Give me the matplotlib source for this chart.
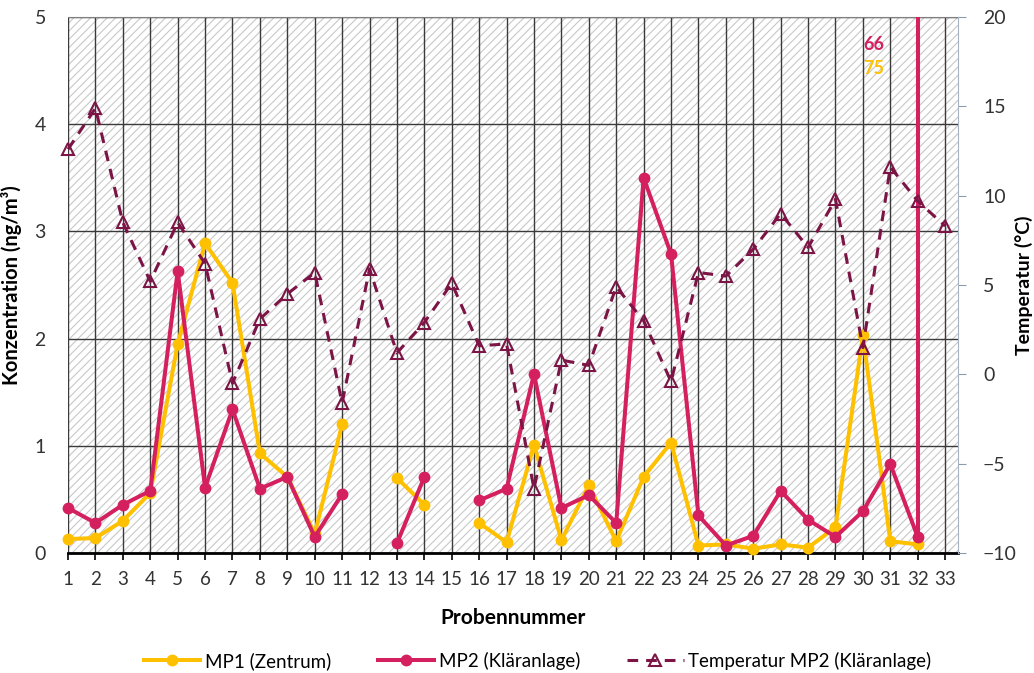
import numpy as np
import matplotlib.pyplot as plt
from matplotlib.patches import Rectangle

plt.rcParams['font.family'] = ['Lato', 'DejaVu Sans']
plt.rcParams['hatch.linewidth'] = 0.8
plt.rcParams['hatch.color'] = '#c8c8c8'

nan = np.nan
samples = list(range(1, 34))

# concentrations in ng/m3, samples 1..32 (none taken at 12 and 15)
mp1 = [0.13, 0.14, 0.30, 0.56, 1.95, 2.89, 2.52, 0.93, 0.71, 0.18,
       1.20, nan, 0.70, 0.45, nan, 0.28, 0.10, 1.01, 0.12, 0.63,
       0.11, 0.71, 1.03, 0.07, 0.08, 0.04, 0.08, 0.05, 0.24, 2.03,
       0.11, 0.08]
mp2 = [0.42, 0.28, 0.45, 0.58, 2.63, 0.61, 1.34, 0.60, 0.71, 0.15,
       0.55, nan, 0.09, 0.71, nan, 0.49, 0.60, 1.67, 0.42, 0.54,
       0.28, 3.50, 2.79, 0.35, 0.07, 0.16, 0.58, 0.31, 0.15, 0.39,
       0.83, 0.15]
# off-scale values at sample 32
peak_x = 32
mp1_peak = 75
mp2_peak = 66

temp = [12.6, 14.9, 8.5, 5.2, 8.5, 6.2, -0.5, 3.1, 4.5, 5.7,
        -1.6, 5.9, 1.2, 2.9, 5.1, 1.6, 1.7, -6.4, 0.8, 0.5,
        4.9, 3.0, -0.4, 5.7, 5.5, 7.0, 9.0, 7.1, 9.8, 1.5,
        11.6, 9.7, 8.3]

c_mp1 = '#ffc000'
c_mp2 = '#d4205e'
c_temp = '#7c1546'
c_text = '#333333'

fig = plt.figure(figsize=(10.34, 6.73), dpi=100)
ax = fig.add_axes([0.0658, 0.1783, 0.8607, 0.7964])

# hatched plot background
ax.add_patch(Rectangle((0, 0), 1, 1, transform=ax.transAxes, facecolor='white',
                       hatch='////', edgecolor='#c8c8c8', linewidth=0, zorder=0))
ax.set_axisbelow(True)
ax.grid(True, color='#3a3a3a', linewidth=1.0)

x_mp = samples[:32]
# spikes to the off-scale values, clipped at the top
ax.plot([peak_x, peak_x], [mp1[peak_x - 1], mp1_peak], color=c_mp1, lw=2.9, zorder=3)
ax.plot(x_mp, mp1, color=c_mp1, lw=2.9, marker='o', ms=7.5, clip_on=False,
        label='MP1 (Zentrum)', zorder=3)
ax.plot([peak_x, peak_x], [mp2[peak_x - 1], mp2_peak], color=c_mp2, lw=2.9, zorder=4)
ax.plot(x_mp, mp2, color=c_mp2, lw=2.9, marker='o', ms=7.5, clip_on=False,
        label='MP2 (Kläranlage)', zorder=4)

ax.text(30.4, 4.74, str(mp2_peak), color=c_mp2, fontsize=13, fontweight='bold',
        ha='center', va='center')
ax.text(30.4, 4.52, str(mp1_peak), color=c_mp1, fontsize=13, fontweight='bold',
        ha='center', va='center')

ax.set_xlim(1, 33.47)
ax.set_ylim(0, 5)
ax.set_xticks(samples)
ax.set_yticks(range(0, 6))
ax.tick_params(axis='y', length=0, labelsize=14, colors=c_text, pad=16)
ax.tick_params(axis='x', length=5, width=1.2, color='black', labelsize=13.5,
               labelcolor=c_text, pad=8)
for s in ['left', 'right']:
    ax.spines[s].set_visible(False)
ax.spines['top'].set_color('#808080')
ax.spines['bottom'].set_color('black')
ax.spines['bottom'].set_linewidth(2)

ax.set_xlabel('Probennummer', fontsize=15, fontweight='bold')
ax.xaxis.set_label_coords(0.5, -0.1026)
ax.set_ylabel('Konzentration (ng/m³)', fontsize=14.5, fontweight='bold')
ax.yaxis.set_label_coords(-0.052, 0.5)

ax2 = ax.twinx()
ax2.plot(samples, temp, color=c_temp, lw=2.2, ls=(0, (3.5, 2.6)), marker='^',
         ms=9, mfc='none', mec=c_temp, mew=1.5, clip_on=False,
         label='Temperatur MP2 (Kläranlage)')
ax2.set_ylim(-10, 20)
ax2.set_yticks(range(-10, 21, 5))
ax2.tick_params(axis='y', length=6, color='#8c9bb0', labelsize=14,
                labelcolor=c_text, pad=12)
for s in ['left', 'top', 'bottom']:
    ax2.spines[s].set_visible(False)
ax2.spines['right'].set_color('#a8b4c4')
ax2.set_ylabel('Temperatur (°C)', fontsize=14, fontweight='bold')
ax2.yaxis.set_label_coords(1.064, 0.5)

h1, l1 = ax.get_legend_handles_labels()
h2, l2 = ax2.get_legend_handles_labels()
fig.legend(h1 + h2, l1 + l2, loc='center', bbox_to_anchor=(0.52, 0.018),
           ncol=3, frameon=False, fontsize=13.5, handlelength=3.0,
           columnspacing=2.5, handletextpad=0.25)

fig.savefig('out.png', dpi=100)
